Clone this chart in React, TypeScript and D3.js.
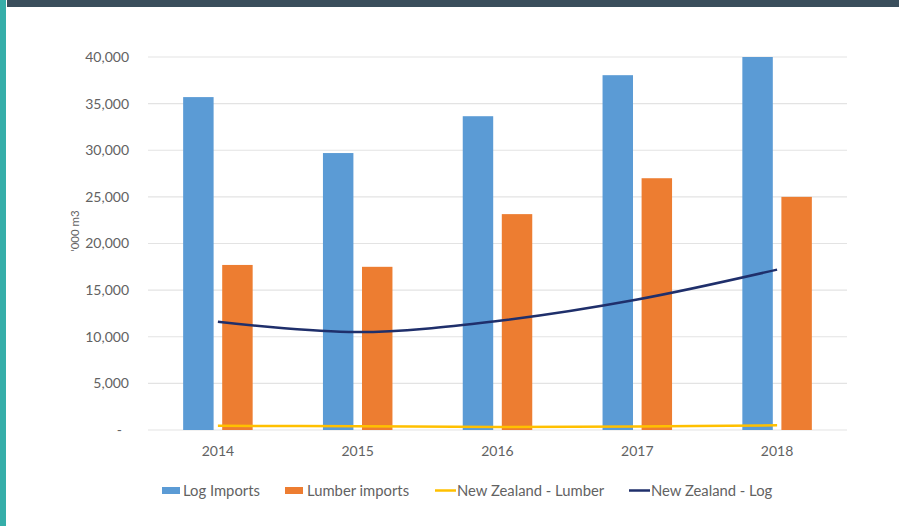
import React from "react";
import * as d3 from "d3";

const years = ["2014", "2015", "2016", "2017", "2018"];
const logImports = [35700, 29700, 33650, 38050, 40000];
const lumberImports = [17700, 17500, 23150, 27000, 25000];
const nzLumber = [450, 400, 330, 380, 500];
const nzLog = [11600, 10500, 11700, 14000, 17200];
const yTicks = [0, 5000, 10000, 15000, 20000, 25000, 30000, 35000, 40000];
const barSeries = ["Log Imports", "Lumber imports"];

const W = 899;
const H = 526;
const FONT = "Lato, 'Open Sans', sans-serif";
const TEXT = "#626262";
const BLUE = "#5b9bd5";
const ORANGE = "#ed7d31";
const YELLOW = "#ffc000";
const NAVY = "#1f2f6b";

export default function App() {
  const x = d3.scaleBand<string>().domain(years).range([148, 847]).padding(0);
  const inner = d3
    .scaleBand<string>()
    .domain(barSeries)
    .range([0, x.bandwidth()])
    .paddingInner(0.22)
    .paddingOuter(0.9);
  const y = d3.scaleLinear().domain([0, 40000]).range([430, 57]);
  const fmt = (v: number) => (v === 0 ? "-" : d3.format(",")(v));
  const cx = (yr: string) => (x(yr) as number) + x.bandwidth() / 2;

  const line = d3
    .line<number>()
    .x((_, i) => cx(years[i]))
    .y((d) => y(d))
    .curve(d3.curveCatmullRom.alpha(0.5));

  const legendItems = [
    { label: "Log Imports", type: "rect", color: BLUE, x: 162, tx: 183 },
    { label: "Lumber imports", type: "rect", color: ORANGE, x: 285, tx: 307 },
    { label: "New Zealand - Lumber", type: "line", color: YELLOW, x: 435, tx: 457 },
    { label: "New Zealand - Log", type: "line", color: NAVY, x: 629, tx: 651 },
  ];

  return (
    <svg
      width={W}
      height={H}
      style={{ position: "fixed", left: 0, top: 0, background: "#fff" }}
      fontFamily={FONT}
    >
      <rect x={0} y={0} width={W} height={H} fill="#fff" />
      <rect x={7} y={0} width={W - 7} height={7} fill="#3a4e5c" />
      <rect x={0} y={0} width={6} height={H} fill="#35aea9" />

      {yTicks.map((t) => (
        <g key={t}>
          <line x1={148} x2={847} y1={y(t)} y2={y(t)} stroke="#e3e3e3" strokeWidth={1.2} />
          <text
            x={t === 0 ? 122 : 129}
            y={y(t)}
            dy="0.35em"
            textAnchor="end"
            fontSize={14}
            fill={TEXT}
          >
            {fmt(t)}
          </text>
        </g>
      ))}

      <text
        transform={`translate(79,231) rotate(-90)`}
        textAnchor="middle"
        fontSize={11.5}
        fill={TEXT}
      >
        '000 m3
      </text>

      {years.map((yr, i) => (
        <g key={yr}>
          <rect
            x={(x(yr) as number) + (inner("Log Imports") as number)}
            y={y(logImports[i])}
            width={inner.bandwidth()}
            height={y(0) - y(logImports[i])}
            fill={BLUE}
          />
          <rect
            x={(x(yr) as number) + (inner("Lumber imports") as number)}
            y={y(lumberImports[i])}
            width={inner.bandwidth()}
            height={y(0) - y(lumberImports[i])}
            fill={ORANGE}
          />
          <text x={cx(yr)} y={456} textAnchor="middle" fontSize={14} fill={TEXT}>
            {yr}
          </text>
        </g>
      ))}

      <path d={line(nzLumber) || ""} fill="none" stroke={YELLOW} strokeWidth={2.5} />
      <path d={line(nzLog) || ""} fill="none" stroke={NAVY} strokeWidth={2.5} />

      {legendItems.map((l) => (
        <g key={l.label}>
          {l.type === "rect" ? (
            <rect x={l.x} y={487} width={18} height={7} fill={l.color} />
          ) : (
            <line x1={l.x} x2={l.x + 21} y1={490.5} y2={490.5} stroke={l.color} strokeWidth={2.5} />
          )}
          <text x={l.tx} y={495.5} fontSize={14.8} fill={TEXT}>
            {l.label}
          </text>
        </g>
      ))}
    </svg>
  );
}
